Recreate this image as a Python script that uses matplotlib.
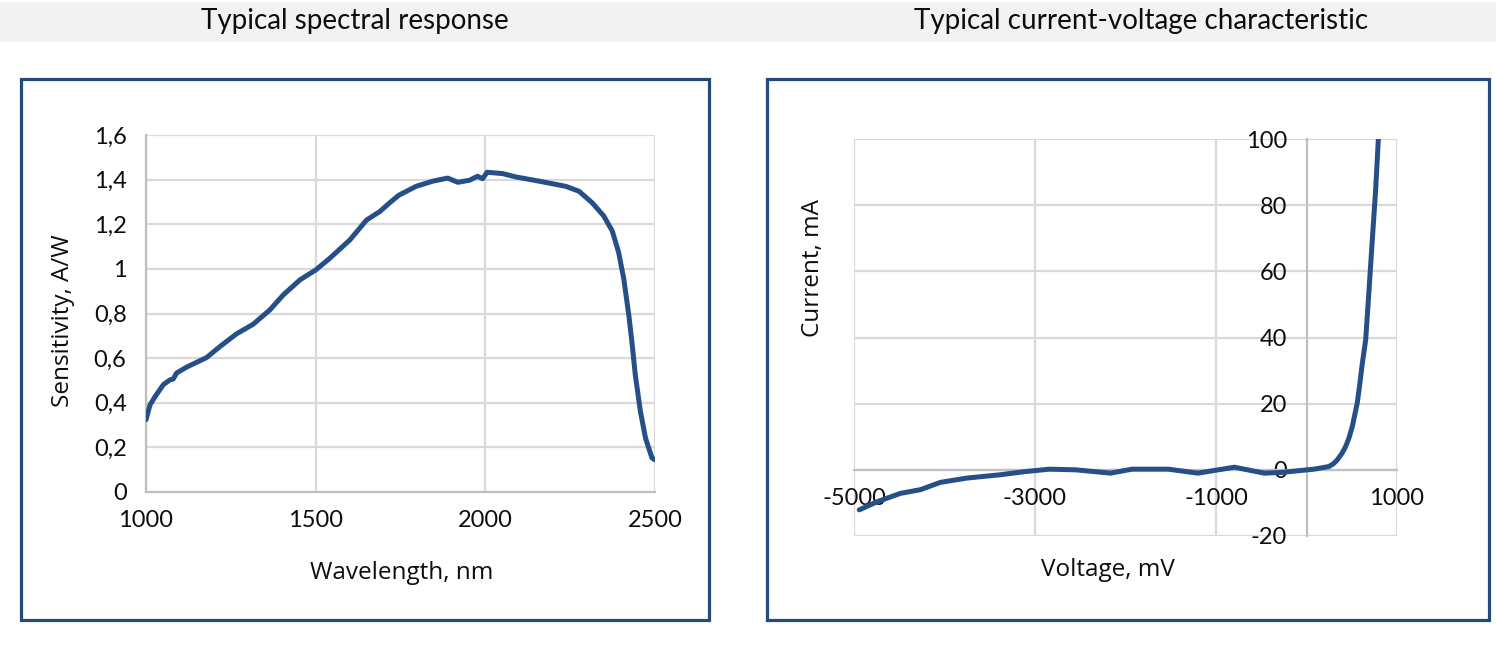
import matplotlib
matplotlib.use("Agg")
import matplotlib.pyplot as plt
from matplotlib.patches import Rectangle
from matplotlib.ticker import FuncFormatter

plt.rcParams["axes.unicode_minus"] = False

# ---- data ----
wavelength_nm = [1000, 1012, 1027, 1051, 1071, 1080, 1090, 1120, 1179, 1218, 1267, 1316,
                 1365, 1405, 1454, 1500, 1542, 1601, 1650, 1689, 1718, 1745, 1796, 1845,
                 1889, 1919, 1953, 1977, 1992, 2005, 2051, 2090, 2159, 2237, 2276, 2315,
                 2349, 2374, 2393, 2408, 2423, 2433, 2442, 2457, 2472, 2491, 2499]
sensitivity_aw = [0.324, 0.391, 0.428, 0.481, 0.503, 0.506, 0.533, 0.560, 0.603, 0.652, 0.709, 0.752,
                  0.816, 0.884, 0.951, 0.995, 1.048, 1.130, 1.219, 1.257, 1.296, 1.330, 1.370, 1.393,
                  1.407, 1.388, 1.397, 1.415, 1.404, 1.433, 1.427, 1.412, 1.393, 1.370, 1.348, 1.296,
                  1.237, 1.170, 1.073, 0.955, 0.791, 0.658, 0.524, 0.361, 0.242, 0.153, 0.145]

voltage_mv = [-4942, -4740, -4485, -4266, -4047, -3755, -3389, -3097, -2842, -2550, -2166,
              -1929, -1528, -1199, -797, -468, -285, -102, 82, 248, 296, 340, 390, 432, 469,
              506, 561, 590, 617, 654, 691, 727, 764, 794]
current_ma = [-12.1, -9.6, -7.1, -6.0, -3.8, -2.5, -1.5, -0.5, 0.2, 0.0, -1.0,
              0.2, 0.2, -1.0, 0.8, -1.0, -0.8, -0.3, 0.2, 1.0, 1.8, 3.0, 4.9, 7.0, 9.6,
              13.1, 20.2, 26.2, 32.2, 39.3, 54.4, 69.5, 84.6, 100.0]

spec_xticks = [1000, 1500, 2000, 2500]
spec_yticks = [0, 0.2, 0.4, 0.6, 0.8, 1.0, 1.2, 1.4, 1.6]
iv_xticks = [-5000, -3000, -1000, 1000]
iv_yticks = [-20, 0, 20, 40, 60, 80, 100]

title_left = "Typical spectral response"
title_right = "Typical current-voltage characteristic"

# ---- style ----
W, H = 1496, 671
LINE = "#264f87"
BORDER = "#244a7c"
GRID = "#d9d9d9"
AXIS = "#bfbfbf"
TXT = "#0d0d0d"
TICKFONT = "Lato"
LABELFONT = "Open Sans"
TICKSIZE = 17
LABELSIZE = 17.5

fig = plt.figure(figsize=(W / 100, H / 100), dpi=100)

def fx(px):
    return px / W

def fy(py):
    return 1 - py / H

# header band
fig.patches.append(Rectangle((0, fy(42)), 1, (42 - 2) / H, transform=fig.transFigure,
                             facecolor="#f2f2f2", edgecolor="none", zorder=0))
fig.text(fx(355), fy(21), title_left, ha="center", va="center", fontsize=20,
         family=TICKFONT, color=TXT)
fig.text(fx(1141), fy(21), title_right, ha="center", va="center", fontsize=20,
         family=TICKFONT, color=TXT)

# panel borders
for (x0, x1) in [(20.5, 708.5), (766.5, 1488.5)]:
    fig.patches.append(Rectangle((fx(x0), fy(620)), fx(x1 - x0), (620 - 78.5) / H,
                                 transform=fig.transFigure, facecolor="none",
                                 edgecolor=BORDER, linewidth=2.3, zorder=1))

def comma(v, pos):
    s = f"{v:.1f}".rstrip("0").rstrip(".")
    return s.replace(".", ",")

# ---- left chart ----
ax1 = fig.add_axes([fx(146), fy(492), fx(655 - 146), (492 - 135) / H])
ax1.plot(wavelength_nm, sensitivity_aw, color=LINE, lw=3.6, solid_capstyle="round",
         solid_joinstyle="round", zorder=3)
ax1.set_xlim(1000, 2500)
ax1.set_ylim(0, 1.6)
ax1.set_xticks(spec_xticks)
ax1.set_yticks(spec_yticks)
ax1.yaxis.set_major_formatter(FuncFormatter(comma))
ax1.grid(True, color=GRID, lw=1.6)
ax1.set_axisbelow(True)
for s in ["top", "right"]:
    ax1.spines[s].set_visible(False)
for s in ["left", "bottom"]:
    ax1.spines[s].set_color(AXIS)
    ax1.spines[s].set_linewidth(1.6)
ax1.tick_params(length=0, labelsize=TICKSIZE, colors=TXT)
ax1.tick_params(axis="x", pad=13)
ax1.tick_params(axis="y", pad=14)
for lab in ax1.get_xticklabels() + ax1.get_yticklabels():
    lab.set_family(TICKFONT)
ax1.set_xlabel("Wavelength, nm", family=LABELFONT, fontsize=LABELSIZE, color=TXT, va="center")
ax1.set_ylabel("Sensitivity, A/W", family=LABELFONT, fontsize=LABELSIZE, color=TXT,
               va="center", ha="center")
ax1.xaxis.set_label_coords((402 - 146) / 509, (492 - 573) / 357)
ax1.yaxis.set_label_coords((63 - 146) / 509, (492 - 321) / 357)

# ---- right chart ----
ax2 = fig.add_axes([fx(854), fy(536), fx(1397 - 854), (536 - 139) / H])
ax2.plot(voltage_mv, current_ma, color=LINE, lw=3.6, solid_capstyle="round",
         solid_joinstyle="round", zorder=3)
ax2.set_xlim(-5000, 1000)
ax2.set_ylim(-20, 100)
ax2.set_xticks(iv_xticks)
ax2.set_yticks(iv_yticks)
ax2.grid(True, color=GRID, lw=1.6)
ax2.set_axisbelow(True)
for s in ["top", "right"]:
    ax2.spines[s].set_visible(False)
ax2.spines["left"].set_position(("data", 0))
ax2.spines["bottom"].set_position(("data", 0))
for s in ["left", "bottom"]:
    ax2.spines[s].set_color(AXIS)
    ax2.spines[s].set_linewidth(1.6)
    ax2.spines[s].set_zorder(2)
ax2.tick_params(length=0, labelsize=TICKSIZE, colors=TXT)
ax2.tick_params(axis="x", pad=13)
ax2.tick_params(axis="y", pad=14)
for lab in ax2.get_xticklabels() + ax2.get_yticklabels():
    lab.set_family(TICKFONT)
ax2.set_xlabel("Voltage, mV", family=LABELFONT, fontsize=LABELSIZE, color=TXT, va="center")
ax2.set_ylabel("Current, mA", family=LABELFONT, fontsize=LABELSIZE, color=TXT,
               va="center", ha="center")
ax2.xaxis.set_label_coords((1108 - 854) / 543, (536 - 570) / 397)
ax2.yaxis.set_label_coords((813 - 854) / 543, (536 - 268) / 397)

fig.savefig("out.png", dpi=100)
